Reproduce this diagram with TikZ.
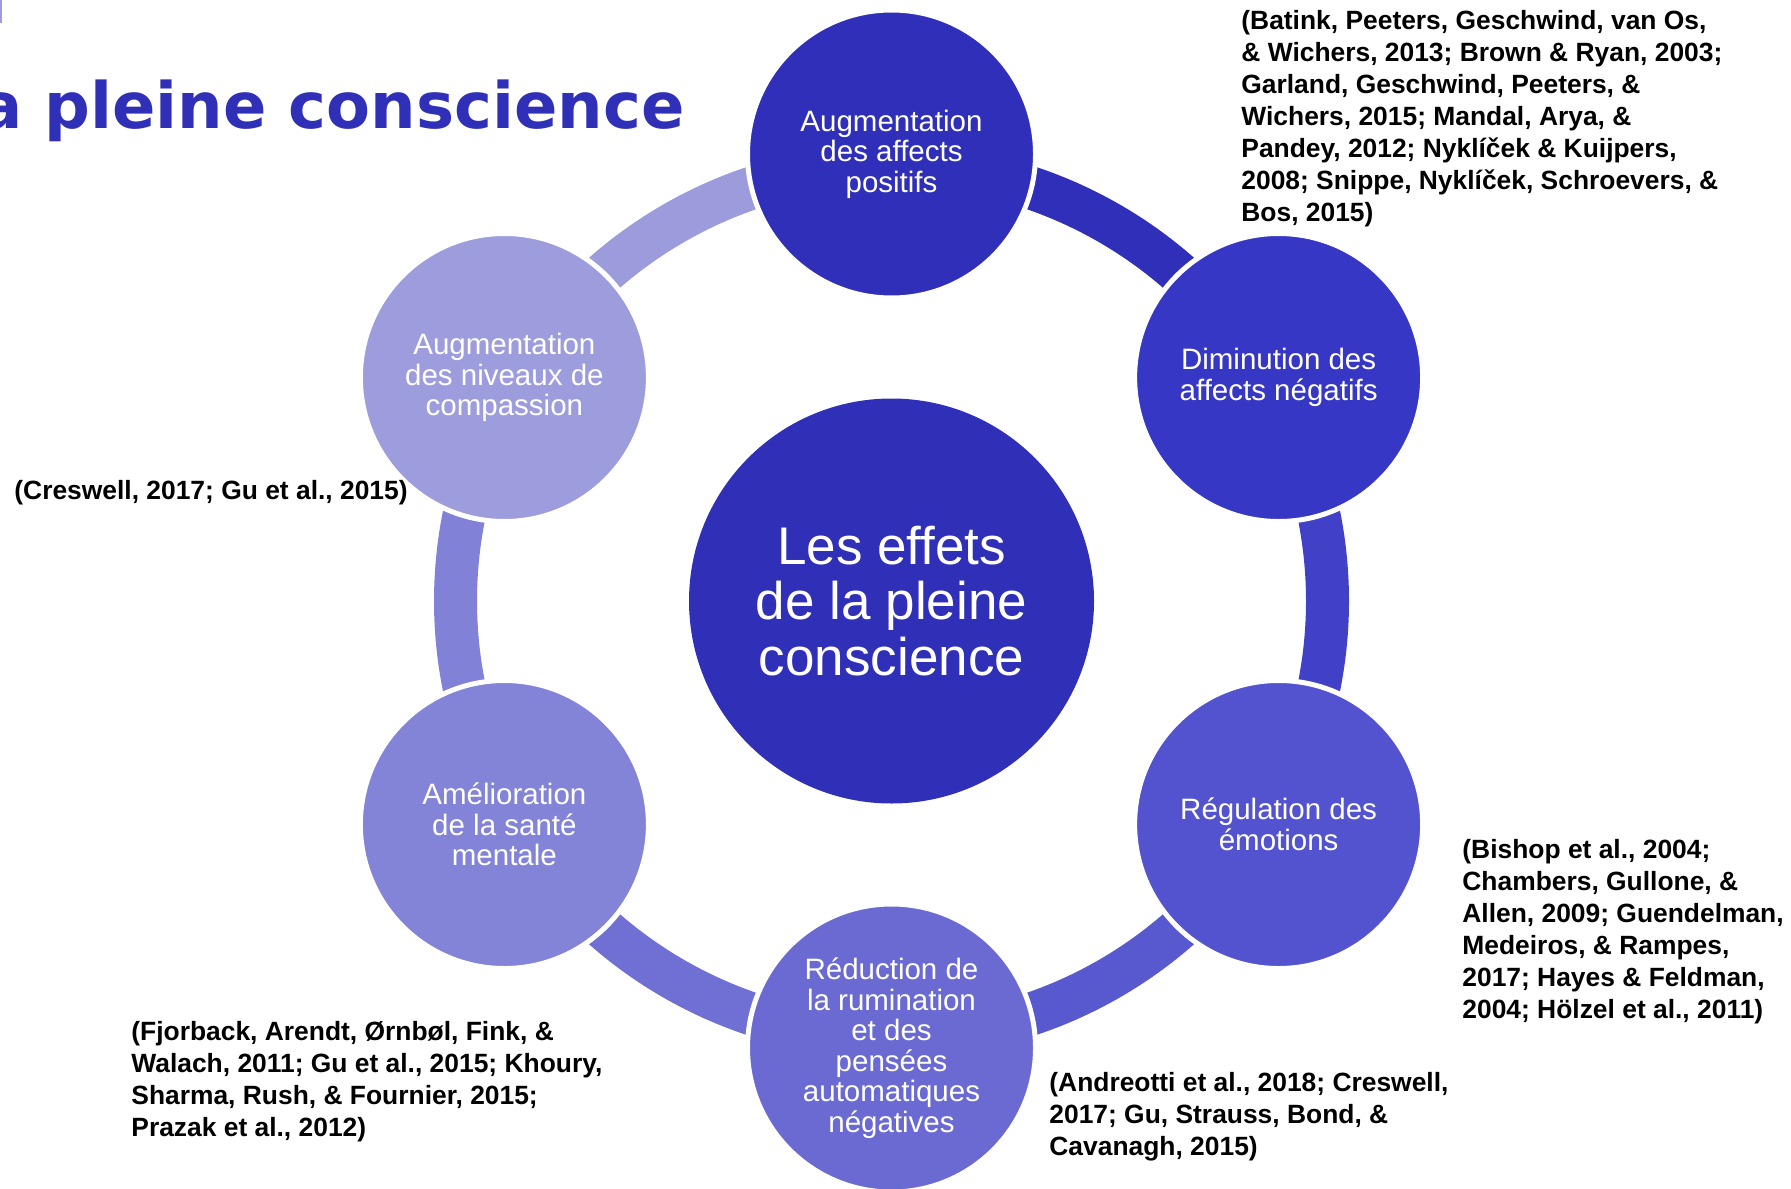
\documentclass[tikz,border=0pt]{standalone}
\usepackage{fontspec}
\setmainfont{Liberation Sans}
\newfontfamily\titlefont{DejaVu Sans}
\definecolor{cC}{HTML}{2F2FB8}
\definecolor{cT}{HTML}{2F2FB9}
\definecolor{cTR}{HTML}{3737C6}
\definecolor{cBR}{HTML}{5353CF}
\definecolor{cB}{HTML}{6A6AD2}
\definecolor{cBL}{HTML}{8383D8}
\definecolor{cTL}{HTML}{9D9DDD}
\definecolor{aT}{HTML}{2F2FBA}
\definecolor{aTR}{HTML}{4141C8}
\definecolor{aBR}{HTML}{5858CF}
\definecolor{aB}{HTML}{7070D4}
\definecolor{aBL}{HTML}{8181D7}
\definecolor{aTL}{HTML}{9C9CDC}
\tikzset{
  ringarc/.style={line width=21.5pt},
  outer/.style={circle, fill=#1, draw=white, line width=2.5pt, minimum size=144pt,
    inner sep=0pt, text=white, align=center, font=\fontsize{14.75pt}{15.25pt}\selectfont},
  cite/.style={anchor=north west, inner sep=0pt, align=left,
    font=\bfseries\fontsize{13.2pt}{16pt}\selectfont}
}
\begin{document}
\begin{tikzpicture}[x=0.5pt,y=0.5pt]
\useasboundingbox (0,0) rectangle (1791,-1188);
\clip (0,0) rectangle (1791,-1188);
\fill[cTL] (0,0) rectangle (2,-23);
\node[anchor=base east, inner sep=0pt, text=cC,
  font=\titlefont\bfseries\fontsize{32pt}{36pt}\selectfont] (title) at (685,-128) {la pleine conscience};
\coordinate (ctr) at (891.5,-601);
% ring arcs
\draw[ringarc, aT]  ([shift={(90:436)}]ctr)  arc[start angle=90,  end angle=30,   radius=436];
\draw[ringarc, aTR] ([shift={(30:436)}]ctr)  arc[start angle=30,  end angle=-30,  radius=436];
\draw[ringarc, aBR] ([shift={(-30:436)}]ctr) arc[start angle=-30, end angle=-90,  radius=436];
\draw[ringarc, aB]  ([shift={(-90:436)}]ctr) arc[start angle=-90, end angle=-150, radius=436];
\draw[ringarc, aBL] ([shift={(210:436)}]ctr) arc[start angle=210, end angle=150,  radius=436];
\draw[ringarc, aTL] ([shift={(150:436)}]ctr) arc[start angle=150, end angle=90,   radius=436];
% center
\node[circle, fill=cC, minimum size=202.5pt, inner sep=0pt, text=white, align=center,
  font=\fontsize{26.5pt}{27.7pt}\selectfont] (C) at (ctr) {Les effets\\de la pleine\\conscience};
% outer circles
\node[outer=cT]  (T)  at ([shift={(90:447)}]ctr)  {Augmentation\\des affects\\positifs};
\node[outer=cTR] (TR) at ([shift={(30:447)}]ctr)  {Diminution des\\affects négatifs};
\node[outer=cBR] (BR) at ([shift={(-30:447)}]ctr) {Régulation des\\émotions};
\node[outer=cB]  (B)  at ([shift={(-90:447)}]ctr) {Réduction de\\la rumination\\et des\\pensées\\automatiques\\négatives};
\node[outer=cBL] (BL) at ([shift={(210:447)}]ctr) {Amélioration\\de la santé\\mentale};
\node[outer=cTL] (TL) at ([shift={(150:447)}]ctr) {Augmentation\\des niveaux de\\compassion};
% citations
\node[cite] (citeT) at (1241,-10) {(Batink, Peeters, Geschwind, van Os,\\\& Wichers, 2013; Brown \& Ryan, 2003;\\Garland, Geschwind, Peeters, \&\\Wichers, 2015; Mandal, Arya, \&\\Pandey, 2012; Nyklíček \& Kuijpers,\\2008; Snippe, Nyklíček, Schroevers, \&\\Bos, 2015)};
\node[cite] (citeTL) at (14,-480) {(Creswell, 2017; Gu et al., 2015)};
\node[cite] (citeBR) at (1462,-839) {(Bishop et al., 2004;\\Chambers, Gullone, \&\\Allen, 2009; Guendelman,\\Medeiros, \& Rampes,\\2017; Hayes \& Feldman,\\2004; Hölzel et al., 2011)};
\node[cite] (citeBL) at (131,-1021) {(Fjorback, Arendt, Ørnbøl, Fink, \&\\Walach, 2011; Gu et al., 2015; Khoury,\\Sharma, Rush, \& Fournier, 2015;\\Prazak et al., 2012)};
\node[cite] (citeB) at (1049,-1072) {(Andreotti et al., 2018; Creswell,\\2017; Gu, Strauss, Bond, \&\\Cavanagh, 2015)};
\end{tikzpicture}
\end{document}
